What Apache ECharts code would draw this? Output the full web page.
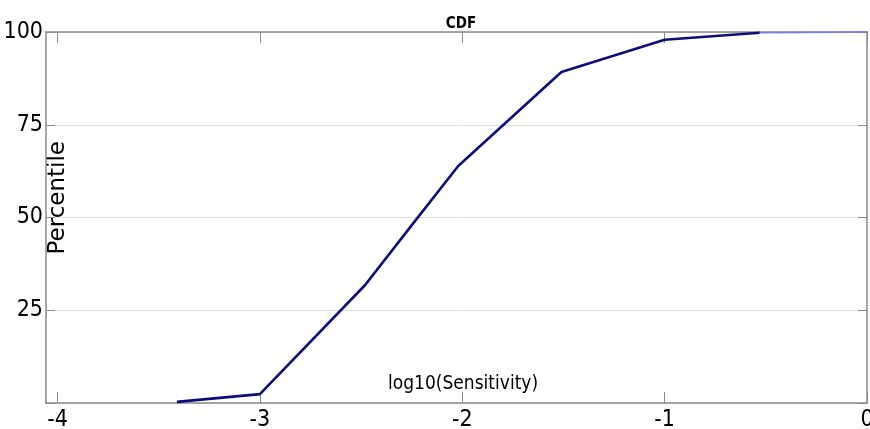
<!DOCTYPE html>
<html>
<head>
<meta charset="utf-8">
<script src="https://cdn.jsdelivr.net/npm/echarts@6/dist/echarts.min.js"></script>
<style>
  html, body { margin: 0; padding: 0; background: #fff; }
  #chart { width: 870px; height: 429px; }
</style>
</head>
<body>
<div id="chart"></div>
<script>
// Cumulative distribution of log10(Sensitivity)
const logSensitivity = [-3.41, -3.0, -2.48, -2.26, -2.02, -1.51, -1.0, -0.53];
const percentile     = [0.3, 2.4, 31.8, 47.2, 63.9, 89.2, 97.9, 99.8];
// final flat stretch up to the axis end
const tailX = [-0.53, 0];
const tailY = [99.8, 100];

const xTicks = [-4, -3, -2, -1, 0];

const FONT = '"Liberation Sans Narrow", "DejaVu Sans Condensed", "Open Sans", sans-serif';
const AXIS_GRAY = '#8a8a8a';

const toPairs = (xs, ys) => xs.map((x, i) => [x, ys[i]]);

const chart = echarts.init(document.getElementById('chart'));

const tickStyle = { show: true, inside: true, length: 11, lineStyle: { color: AXIS_GRAY, width: 1 } };

chart.setOption({
  animation: false,
  backgroundColor: '#fff',
  title: {
    text: 'CDF',
    left: 456, top: 12, textAlign: 'center',
    textStyle: { fontFamily: FONT, fontSize: 15, fontWeight: 'bold', color: '#000' }
  },
  grid: { left: 46, right: 3, top: 32, bottom: 26, containLabel: false, outerBoundsMode: 'none' },
  xAxis: [{
    type: 'value',
    min: -4.057, max: 0,
    axisLine: { show: true, onZero: false, lineStyle: { color: AXIS_GRAY, width: 1.5 } },
    axisTick: Object.assign({ customValues: xTicks }, tickStyle),
    axisLabel: {
      customValues: xTicks, margin: 6,
      fontFamily: FONT, fontSize: 23, color: '#000'
    },
    splitLine: { show: false }
  }, {
    type: 'value', position: 'top',
    min: -4.057, max: 0,
    axisLine: { show: true, onZero: false, lineStyle: { color: AXIS_GRAY, width: 1.5 } },
    axisTick: Object.assign({ customValues: xTicks }, tickStyle),
    axisLabel: { show: false },
    splitLine: { show: false }
  }],
  yAxis: [{
    type: 'value',
    min: 0, max: 100, interval: 25,
    axisLine: { show: true, onZero: false, lineStyle: { color: AXIS_GRAY, width: 1.5 } },
    axisTick: Object.assign({}, tickStyle, { length: 9 }),
    axisLabel: {
      margin: 3, fontFamily: FONT, fontSize: 23, color: '#000',
      formatter: v => (v === 0 ? '' : String(v))
    },
    splitLine: { show: true, lineStyle: { color: '#e2e2e2', width: 1 } }
  }, {
    type: 'value', position: 'right',
    min: 0, max: 100, interval: 25,
    axisLine: { show: true, onZero: false, lineStyle: { color: AXIS_GRAY, width: 1.5 } },
    axisTick: Object.assign({}, tickStyle, { length: 9 }),
    axisLabel: { show: false },
    splitLine: { show: false }
  }],
  graphic: [{
    type: 'text',
    left: 47, top: 141,
    rotation: Math.PI / 2,
    style: {
      text: 'Percentile',
      font: '23px "DejaVu Sans", sans-serif',
      fill: '#000'
    }
  }, {
    type: 'text',
    left: 388, top: 375,
    style: {
      text: 'log10(Sensitivity)',
      font: '19px ' + FONT,
      fill: '#000'
    }
  }],
  series: [{
    type: 'line',
    data: toPairs(logSensitivity, percentile),
    showSymbol: false,
    clip: false,
    lineStyle: { color: '#0d0d78', width: 2.6 },
    z: 5
  }, {
    type: 'line',
    data: toPairs(tailX, tailY),
    showSymbol: false,
    clip: false,
    lineStyle: { color: '#7b7be6', width: 1.6 },
    z: 6
  }]
});
</script>
</body>
</html>
